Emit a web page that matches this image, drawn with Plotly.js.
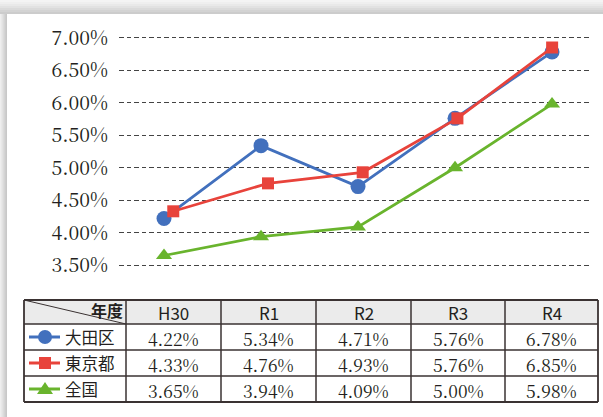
<!DOCTYPE html>
<html><head><meta charset="utf-8">
<script src="https://cdn.plot.ly/plotly-3.0.1.min.js"></script>
<style>html,body{margin:0;padding:0;background:#fff;overflow:hidden}#chart{width:603px;height:417px}</style>
</head><body><div id="chart"></div>
<script>
// ---- data ----
const years = ['H30', 'R1', 'R2', 'R3', 'R4'];
const seriesNames = ['大田区', '東京都', '全国'];
const ota = [4.22, 5.34, 4.71, 5.76, 6.78];
const tokyo = [4.33, 4.76, 4.93, 5.76, 6.85];
const zenkoku = [3.65, 3.94, 4.09, 5.00, 5.98];
const yTickVals = [3.5, 4.0, 4.5, 5.0, 5.5, 6.0, 6.5, 7.0];
const yTickText = ['3.50%', '4.00%', '4.50%', '5.00%', '5.50%', '6.00%', '6.50%', '7.00%'];
const cornerLabel = '年度';

// ---- styles / layout helpers ----
const W = 603, H = 417;
const X = p => p / W, Y = p => 1 - p / H;
const colors = ['#4270bd', '#e8433b', '#69b42d'];
const symbols = ['circle', 'square', 'triangle-up'];
const msize = [15, 12, 14];
const textColor = '#231f20';
const serif = 'Noto Serif CJK JP, Noto Serif, DejaVu Serif';
const gothic = 'Noto Sans CJK JP';

const allSeries = [ota, tokyo, zenkoku];
const axisOf = ['x', 'x2', 'x'];

const traces = [0, 1, 2].map(i => ({
  type: 'scatter', mode: 'lines+markers', name: seriesNames[i],
  x: years, y: allSeries[i], xaxis: axisOf[i], yaxis: 'y',
  line: {color: colors[i], width: 2.75},
  marker: {symbol: symbols[i], size: msize[i], color: colors[i], line: {width: 0}},
  hoverinfo: 'skip', cliponaxis: false
}));
const data = [traces[2], traces[0], traces[1]];

const shapes = [];
const annotations = [];

const topShades = ['#f4f4f4', '#efefef', '#e9e9e9', '#e2e2e2', '#dadada', '#d3d3d3', '#cccccc'];
topShades.forEach((c, k) => shapes.push({type: 'rect', xref: 'paper', yref: 'paper', layer: 'below',
  x0: 0, x1: 1, y0: Y(k * 2 + 2), y1: Y(k * 2), fillcolor: c, line: {width: 0}}));
const leftShades = ['#eeeeee', '#e8e8e8', '#e2e2e2', '#dbdbdb', '#d4d4d4', '#cdcdcd', '#c8c8c8'];
leftShades.forEach((c, k) => shapes.push({type: 'rect', xref: 'paper', yref: 'paper', layer: 'below',
  x0: X(k), x1: X(k + 1), y0: 0, y1: Y(14), fillcolor: c, line: {width: 0}}));

// ---- table ----
const colEdges = [24, 126, 221, 316, 411, 505, 598];
const rowEdges = [300, 324, 350, 376, 402];
const lineCol = '#3a3232';
shapes.push({type: 'rect', xref: 'paper', yref: 'paper', layer: 'below',
  x0: X(colEdges[0]), x1: X(colEdges[6]), y0: Y(rowEdges[1]), y1: Y(rowEdges[0]),
  fillcolor: '#ebebeb', line: {width: 0}});
rowEdges.forEach((r, k) => shapes.push({type: 'line', xref: 'paper', yref: 'paper',
  x0: X(colEdges[0]), x1: X(colEdges[6]), y0: Y(r), y1: Y(r),
  line: {color: lineCol, width: (k === 0 || k === rowEdges.length - 1) ? 1.8 : 1.5}}));
colEdges.forEach((c, k) => shapes.push({type: 'line', xref: 'paper', yref: 'paper',
  x0: X(c), x1: X(c), y0: Y(rowEdges[0]), y1: Y(rowEdges[4]),
  line: {color: lineCol, width: (k === 0 || k === colEdges.length - 1) ? 1.8 : 1.5}}));
shapes.push({type: 'line', xref: 'paper', yref: 'paper',
  x0: X(colEdges[0]), y0: Y(rowEdges[0]), x1: X(colEdges[1]), y1: Y(rowEdges[1]),
  line: {color: lineCol, width: 1}});

annotations.push({xref: 'paper', yref: 'paper', x: X(125), y: Y(310), xanchor: 'right', yanchor: 'middle',
  text: '<b>' + cornerLabel + '</b>', showarrow: false, font: {family: gothic, size: 16, color: textColor}});

years.forEach((yr, j) => {
  const cx = (colEdges[j + 1] + colEdges[j + 2]) / 2;
  annotations.push({xref: 'paper', yref: 'paper', x: X(cx), y: Y(312.5), xanchor: 'center', yanchor: 'middle',
    text: yr, showarrow: false, font: {family: gothic, size: 17, color: textColor}});
  allSeries.forEach((s, i) => {
    const cy = (rowEdges[i + 1] + rowEdges[i + 2]) / 2;
    annotations.push({xref: 'paper', yref: 'paper', x: X(cx), y: Y(cy + 1), xanchor: 'center', yanchor: 'middle',
      text: s[j].toFixed(2) + '%', showarrow: false, font: {family: serif, size: 17.5, color: textColor}});
  });
});

seriesNames.forEach((nm, i) => {
  const cy = (rowEdges[i + 1] + rowEdges[i + 2]) / 2;
  annotations.push({xref: 'paper', yref: 'paper', x: X(63), y: Y(cy), xanchor: 'left', yanchor: 'middle',
    text: nm, showarrow: false, font: {family: gothic, size: 16.5, color: textColor}});
  shapes.push({type: 'line', xref: 'paper', yref: 'paper', x0: X(29), x1: X(60), y0: Y(cy), y1: Y(cy),
    line: {color: colors[i], width: 3}});
  const mx = 45;
  if (i === 0) {
    shapes.push({type: 'circle', xref: 'paper', yref: 'paper', x0: X(mx - 7), x1: X(mx + 7), y0: Y(cy + 7), y1: Y(cy - 7),
      fillcolor: colors[i], line: {width: 0}});
  } else if (i === 1) {
    shapes.push({type: 'rect', xref: 'paper', yref: 'paper', x0: X(mx - 6), x1: X(mx + 6), y0: Y(cy + 6), y1: Y(cy - 6),
      fillcolor: colors[i], line: {width: 0}});
  } else {
    shapes.push({type: 'path', xref: 'paper', yref: 'paper',
      path: `M ${X(mx - 8)} ${Y(cy + 5)} L ${X(mx + 8)} ${Y(cy + 5)} L ${X(mx)} ${Y(cy - 7)} Z`,
      fillcolor: colors[i], line: {width: 0}});
  }
});

const layout = {
  width: W, height: H,
  margin: {l: 0, r: 0, t: 0, b: 0, pad: 0},
  paper_bgcolor: '#ffffff', plot_bgcolor: 'rgba(0,0,0,0)',
  showlegend: false,
  xaxis: {type: 'category', categoryarray: years, domain: [X(119), X(592)], range: [-0.464, 4.412],
    visible: false, fixedrange: true},
  xaxis2: {type: 'category', categoryarray: years, overlaying: 'x', anchor: 'y', range: [-0.573, 4.421],
    visible: false, fixedrange: true},
  yaxis: {domain: [Y(268.5), Y(34.5)], range: [3.45, 7.05], tickvals: yTickVals, ticktext: yTickText,
    ticks: '', showline: false, zeroline: false, showgrid: true, gridcolor: '#444444', gridwidth: 1.2,
    griddash: '4.5px,3px', ticklabelstandoff: 10, automargin: false,
    tickfont: {family: serif, size: 19.5, color: textColor}, fixedrange: true},
  shapes: shapes,
  annotations: annotations
};

Plotly.newPlot('chart', data, layout, {staticPlot: true, displayModeBar: false});
</script>
</body></html>
